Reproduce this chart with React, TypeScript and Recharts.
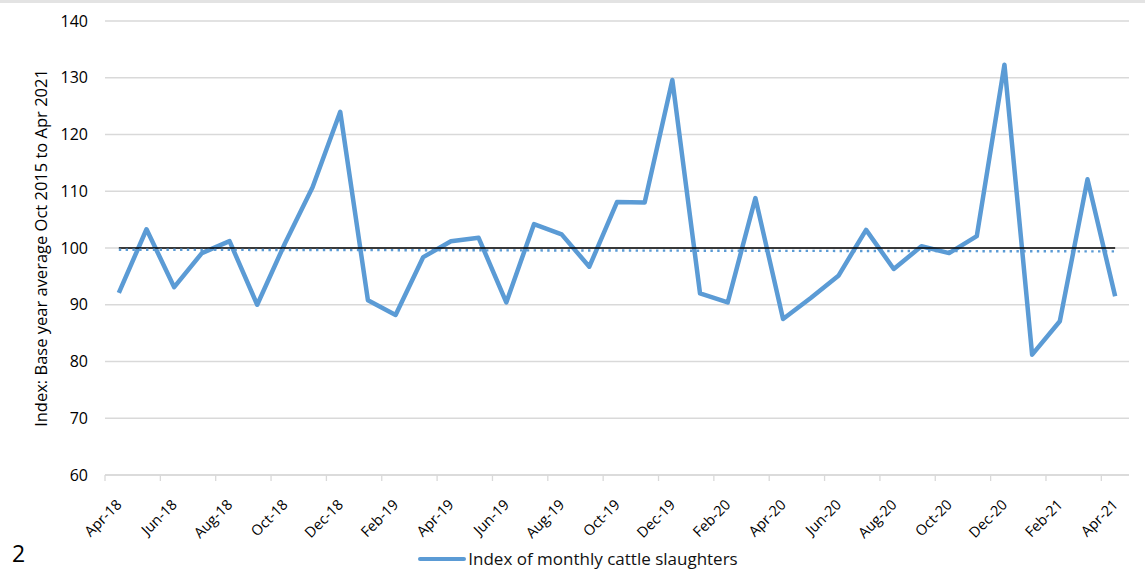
import React from "react";
import {
  LineChart,
  Line,
  XAxis,
  YAxis,
  CartesianGrid,
  Legend,
} from "recharts";

// 月次ラベル（Apr-18 〜 Apr-21）
const months = [
  "Apr-18", "May-18", "Jun-18", "Jul-18", "Aug-18", "Sep-18", "Oct-18", "Nov-18",
  "Dec-18", "Jan-19", "Feb-19", "Mar-19", "Apr-19", "May-19", "Jun-19", "Jul-19",
  "Aug-19", "Sep-19", "Oct-19", "Nov-19", "Dec-19", "Jan-20", "Feb-20", "Mar-20",
  "Apr-20", "May-20", "Jun-20", "Jul-20", "Aug-20", "Sep-20", "Oct-20", "Nov-20",
  "Dec-20", "Jan-21", "Feb-21", "Mar-21", "Apr-21",
];

const slaughterIndex = [
  92.1, 103.3, 93.1, 99.1, 101.2, 90.0, 100.8, 110.7,
  124.0, 90.8, 88.2, 98.4, 101.2, 101.8, 90.4, 104.2,
  102.4, 96.7, 108.1, 108.0, 129.6, 92.0, 90.4, 108.8,
  87.5, 91.2, 95.1, 103.2, 96.3, 100.3, 99.1, 102.1,
  132.3, 81.2, 87.1, 112.1, 91.5,
];

const baseValue = 100;
const trendStart = 99.7;
const trendEnd = 99.4;

const yTicks = [60, 70, 80, 90, 100, 110, 120, 130, 140];

const BLUE = "#5B9BD5";
const GRID = "#d9d9d9";
const FONT = "'Open Sans', Lato, sans-serif";

const data = months.map((m, i) => ({
  month: m,
  pos: i + 0.5,
  index: slaughterIndex[i],
  base: baseValue,
  trend: i === 0 ? trendStart : i === months.length - 1 ? trendEnd : null,
}));

const xTicks = months.map((_, i) => i).filter((i) => i % 2 === 0);

const MonthTick = (props: any) => {
  const { x, y, payload } = props;
  return (
    <g transform={`translate(${x + 14},${y + 19})`}>
      <text
        x={0}
        y={0}
        dy="0.35em"
        textAnchor="end"
        transform="rotate(-45)"
        fill="#000"
        fontSize={14.5}
        fontFamily={FONT}
      >
        {months[payload.value]}
      </text>
    </g>
  );
};

const LegendContent = () => (
  <div
    style={{
      display: "flex",
      justifyContent: "center",
      alignItems: "center",
      fontFamily: FONT,
      fontSize: 17,
      color: "#111",
      paddingLeft: 11,
    }}
  >
    <svg width={48} height={10} style={{ marginRight: 2 }}>
      <line x1={2} y1={5} x2={46} y2={5} stroke={BLUE} strokeWidth={4} strokeLinecap="round" />
    </svg>
    <span>Index of monthly cattle slaughters</span>
  </div>
);

const App: React.FC = () => {
  return (
    <div style={{ position: "absolute", left: 0, top: 0, width: 1145, height: 577, background: "#fff" }}>
      <div style={{ position: "absolute", left: 0, top: 0, width: 1145, height: 3, background: "#e3e3e3" }} />
      <LineChart
        width={1145}
        height={577}
        data={data}
        margin={{ top: 21, right: 16, bottom: 0, left: 0 }}
      >
        <CartesianGrid horizontal={true} vertical={false} stroke={GRID} strokeWidth={1.3} />
        <XAxis
          dataKey="pos"
          type="number"
          domain={[0, months.length]}
          ticks={xTicks}
          interval={0}
          tick={<MonthTick />}
          height={102}
          tickSize={6}
          axisLine={{ stroke: GRID, strokeWidth: 1.3 }}
          tickLine={{ stroke: GRID, strokeWidth: 1.3 }}
        />
        <YAxis
          domain={[60, 140]}
          ticks={yTicks}
          width={105}
          axisLine={false}
          tickLine={false}
          tickSize={0}
          tickMargin={17}
          tick={{ fill: "#000", fontSize: 16, fontFamily: FONT }}
          label={{
            content: () => (
              <text
                x={40}
                y={248}
                transform="rotate(-90 40 248)"
                textAnchor="middle"
                dominantBaseline="central"
                fontSize={16.5}
                fontFamily={FONT}
                fill="#000"
              >
                Index: Base year average Oct 2015 to Apr  2021
              </text>
            ),
          }}
        />
        <Line
          dataKey="index"
          stroke={BLUE}
          strokeWidth={4.5}
          dot={false}
          strokeLinejoin="round"
          isAnimationActive={false}
        />
        <Line
          dataKey="base"
          stroke="#000"
          strokeWidth={1.6}
          dot={false}
          isAnimationActive={false}
          legendType="none"
        />
        <Line
          dataKey="trend"
          stroke={BLUE}
          strokeWidth={2.4}
          strokeDasharray="2.4 4.4"
          dot={false}
          connectNulls
          isAnimationActive={false}
          legendType="none"
        />
        <Legend
          verticalAlign="middle"
          align="center"
          content={<LegendContent />}
          wrapperStyle={{ top: 547, left: 0, width: 1145, height: 24 }}
        />
      </LineChart>
      <div
        style={{
          position: "absolute",
          left: 12,
          top: 537,
          fontFamily: FONT,
          fontSize: 23,
          color: "#000",
        }}
      >
        2
      </div>
    </div>
  );
};

export default App;
